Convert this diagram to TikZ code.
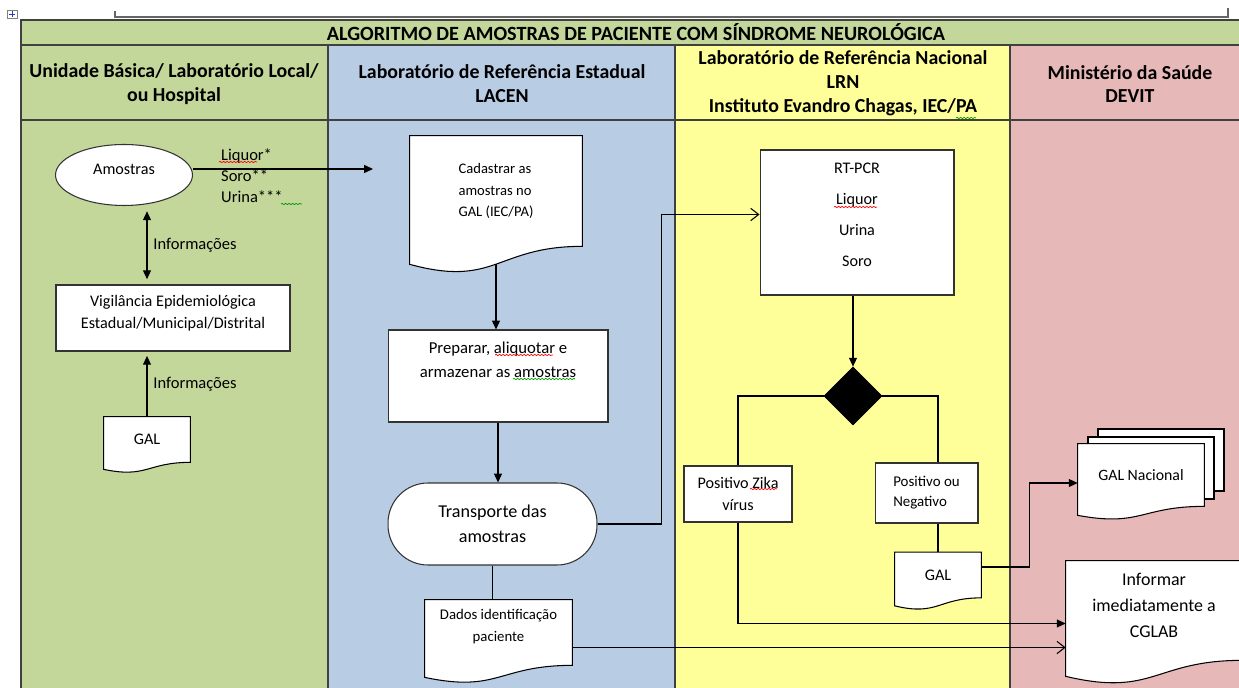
\documentclass[tikz,border=0pt]{standalone}
\usepackage{fontspec}
\setmainfont{Carlito}
\usetikzlibrary{shapes.geometric, arrows.meta, calc, decorations.pathmorphing}

\definecolor{colgreen}{RGB}{196,215,155}
\definecolor{colblue}{RGB}{184,204,228}
\definecolor{colyellow}{RGB}{255,255,153}
\definecolor{colpink}{RGB}{230,184,183}

\pgfdeclarelayer{table}
\pgfdeclarelayer{docs}
\pgfsetlayers{table,docs,main}

% document shape with a wavy bottom, drawn below the text of node #1
\newcommand{\docshape}[2]{%
  \begin{pgfonlayer}{docs}
    \draw[line width=0.6pt, fill=white] (#1.north west) -- (#1.north east) -- (#1.south east)
      .. controls (#1.south) and ($(#1.south)+(0,2.31*#2)$) .. ($(#1.south west)+(0,#2)$) -- cycle;
  \end{pgfonlayer}}

\begin{document}
\begin{tikzpicture}[x=0.02cm, y=-0.02cm,
  cell/.style={draw=black!75, line width=0.9pt},
  box/.style={draw=black!80, fill=white, line width=0.6pt, inner sep=0pt, align=center, font=\fontsize{9.2}{13}\selectfont},
  doc/.style={inner sep=0pt, align=center, font=\fontsize{9.2}{13}\selectfont},
  hdr/.style={font=\bfseries\fontsize{11.3}{13.6}\selectfont, align=center},
  lbl/.style={font=\fontsize{9.4}{12}\selectfont},
  arr/.style={-{Triangle[length=5pt,width=4.5pt]}, line width=0.6pt},
  darr/.style={{Triangle[length=5pt,width=4.5pt]}-{Triangle[length=5pt,width=4.5pt]}, line width=0.6pt},
  oarr/.style={-{Straight Barb[length=4.5pt,width=7pt]}, line width=0.6pt},
  con/.style={line width=0.6pt},
  squig/.style={decorate, decoration={snake, amplitude=0.35pt, segment length=2pt}, line width=0.4pt}]
  \useasboundingbox (0,0) rectangle (1239,688);
  \clip (0,0) rectangle (1239,688);

  % Draw table
  \begin{pgfonlayer}{table}
    \fill[colgreen] (21,20) rectangle (1250,45);
    \fill[colgreen] (21,45) rectangle (328,700);
    \fill[colblue] (328,45) rectangle (675,700);
    \fill[colyellow] (675,45) rectangle (1010,700);
    \fill[colpink] (1010,45) rectangle (1250,700);
    \draw[cell] (21,700) -- (21,20) -- (1250,20);
    \draw[cell] (21,45) -- (1250,45);
    \draw[cell] (21,120) -- (1250,120);
    \foreach \x in {328,675,1010} \draw[cell] (\x,45) -- (\x,700);
    \draw[black!60, line width=0.6pt] (115,11) -- (115,17) -- (1228,17) -- (1228,8);
    \draw[gray, line width=0.4pt] (7,10) rectangle (17,18);
    \draw[blue!60!gray, line width=0.4pt] (9,14) -- (15,14) (12,11) -- (12,17);
  \end{pgfonlayer}

  % Headers
  \node[hdr, font=\bfseries\fontsize{11.5}{13.6}\selectfont] (title) at (636,32.5) {ALGORITMO DE AMOSTRAS DE PACIENTE COM SÍNDROME NEUROLÓGICA};
  \node[hdr] (hunidade) at (174,84) {Unidade Básica/ Laboratório Local/\\ou Hospital};
  \node[hdr] (hlacen) at (502,84) {Laboratório de Referência Estadual\\LACEN};
  \node[hdr] (hlrn) at (843,83) {Laboratório de Referência Nacional\\LRN\\Instituto Evandro Chagas, IEC/PA};
  \node[hdr] (hms) at (1130,84) {Ministério da Saúde\\DEVIT};

  % Unidade basica
  \node[box, ellipse, minimum width=2.74cm, minimum height=1.22cm] (amostras) at (124,175) {Amostras\\[-6pt]\mbox{}};
  \node[lbl, anchor=west, align=left] (tipos) at (215,176) {Liquor*\\Soro**\\Urina***};
  \node[box, minimum width=4.68cm, minimum height=1.32cm] (vig) at (173,318) {Vigilância Epidemiológica\\Estadual/Municipal/Distrital\\[-6pt]\mbox{}};
  \node[doc, minimum width=1.72cm, minimum height=0.9cm] (galA) at (147,439.5) {GAL};
  \docshape{galA}{7}

  % LACEN
  \node[doc, align=left, font=\fontsize{8.3}{12}\selectfont, minimum width=3.44cm, minimum height=2.2cm] (cad) at (496,191) {Cadastrar as\\amostras no\\GAL (IEC/PA)};
  \docshape{cad}{18}
  \node[box, minimum width=4.4cm, minimum height=1.84cm, font=\fontsize{9.5}{13.6}\selectfont] (prep) at (498,376) {Preparar, aliquotar e\\armazenar as amostras\\[4.6pt]\mbox{}};
  \node[box, rounded corners=0.8cm, minimum width=4.18cm, minimum height=1.64cm, font=\fontsize{10.3}{14}\selectfont] (transp) at (492.5,524) {Transporte das\\amostras};
  \node[doc, font=\fontsize{8.4}{12.5}\selectfont, minimum width=2.94cm, minimum height=1.3cm] (dados) at (498.5,632.5) {Dados identificação\\paciente\\[-4.8pt]\mbox{}};
  \docshape{dados}{12}

  % LRN
  \node[box, minimum width=3.88cm, minimum height=2.9cm, font=\fontsize{9.2}{17.6}\selectfont] (rtpcr) at (857,222.5) {RT-PCR\\Liquor\\Urina\\Soro\\[-8.6pt]\mbox{}};
  \node[diamond, draw=black, fill=black, minimum width=1.16cm, minimum height=1.16cm, inner sep=0pt] (decisao) at (853,396) {};
  \node[box, minimum width=2.16cm, minimum height=1.12cm] (zika) at (738,494) {Positivo Zika\\vírus};
  \node[box, align=left, minimum width=2.06cm, minimum height=1.2cm, font=\fontsize{8.5}{11.3}\selectfont] (pn) at (926.5,493) {Positivo ou\\Negativo};
  \node[doc, minimum width=1.72cm, minimum height=0.9cm] (galB) at (938,575) {GAL};
  \docshape{galB}{8}

  % Ministerio
  \begin{pgfonlayer}{docs}
    \draw[line width=0.6pt, fill=white] ($(1078,444)+(20,-15)$) rectangle ($(1204,506)+(20,-15)$);
    \draw[line width=0.6pt, fill=white] ($(1078,444)+(10,-7)$) rectangle ($(1204,506)+(10,-7)$);
  \end{pgfonlayer}
  \node[doc, font=\fontsize{9}{12}\selectfont, minimum width=2.52cm, minimum height=1.24cm] (galN) at (1141,475) {GAL Nacional};
  \docshape{galN}{9}
  \node[doc, font=\fontsize{10.2}{14.7}\selectfont, minimum width=3.52cm, minimum height=1.98cm] (informar) at (1154,610.5) {Informar\\imediatamente a\\CGLAB\\[-9pt]\mbox{}};
  \docshape{informar}{16}

  % Connectors
  \coordinate (amtip) at (373,169);
  \draw[arr] (amostras.east |- amtip) -- (amtip);
  \draw[darr, shorten <=3pt, shorten >=3pt] (amostras.south -| galA.north) -- (vig.north -| galA.north) node[lbl, midway, right] {Informações};
  \draw[arr, shorten >=2.5pt] (galA.north) -- (vig.south -| galA.north) node[lbl, midway, right] {Informações};
  \draw[arr] ($(cad.south)+(0,18)$) -- (cad.south |- prep.north);
  \draw[arr] (prep.south) -- (prep.south |- transp.north);
  \draw[oarr] (transp.east) -- ++(64,0) |- ([yshift=0.16cm]rtpcr.west);
  \draw[con] (transp.south) -- (transp.south |- dados.north);
  \coordinate (dadosout) at ([yshift=-0.3cm]dados.east);
  \draw[oarr] (dadosout) -- (dadosout -| informar.west);
  \draw[arr] (rtpcr.south -| decisao.north) -- (decisao.north);
  \draw[con] (decisao.west) -| (zika.north);
  \draw[con] (decisao.east) -| (pn.north -| galB.north);
  \draw[con] (pn.south -| galB.north) -- (galB.north);
  \draw[arr] ([yshift=0.16cm]galB.east) -- ++(48,0) |- ([yshift=-0.16cm]galN.west);
  \draw[arr] (zika.south) |- ([yshift=-0.26cm]informar.west);

  % Spelling marks
  \draw[squig, red] (219,162) -- (257,162);
  \draw[squig, green!60!black] (281,204) -- (302,204);
  \draw[squig, green!60!black] (956,118) -- (976,118);
  \draw[squig, red] (495,355) -- (553,355);
  \draw[squig, green!60!black] (513,379) -- (575,379);
  \draw[squig, red] (834,207) -- (877,207);
  \draw[squig, red] (750,489) -- (777,489);
\end{tikzpicture}
\end{document}
